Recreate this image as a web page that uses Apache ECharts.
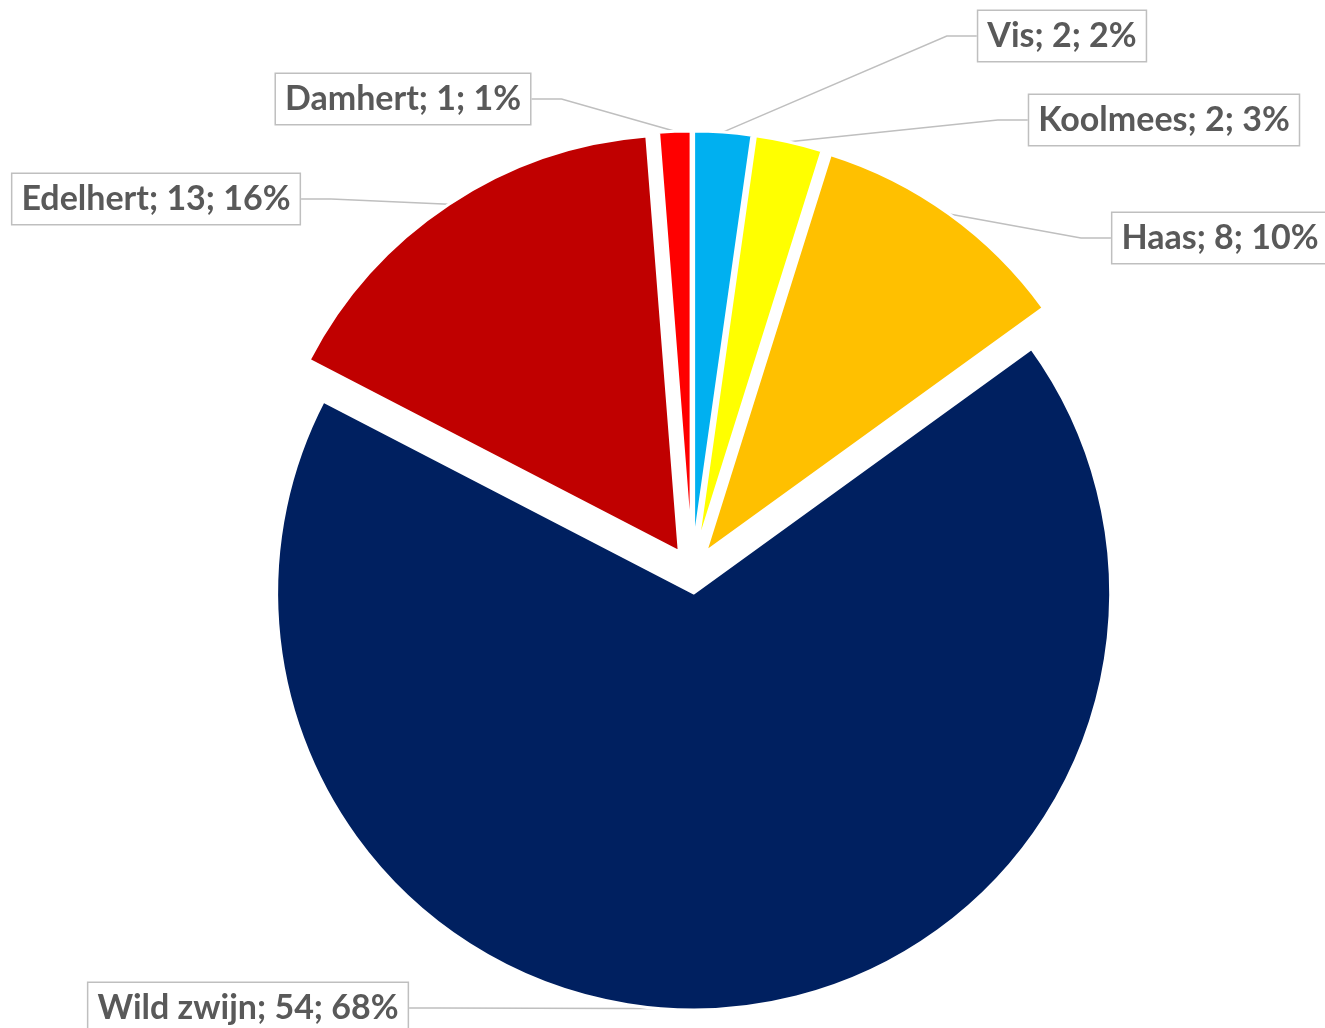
<!DOCTYPE html>
<html>
<head>
<meta charset="utf-8">
<script src="https://cdn.jsdelivr.net/npm/echarts@6/dist/echarts.min.js"></script>
<style>
  html, body { margin: 0; padding: 0; background: #fff; }
  #chart { width: 1325px; height: 1028px; }
</style>
</head>
<body>
<div id="chart"></div>
<script>
// slices clockwise from 12 o'clock
const categories = ['Vis', 'Koolmees', 'Haas', 'Wild zwijn', 'Edelhert', 'Damhert']
const values = [1.8, 2.1, 8.2, 54.4, 13, 1]
const colors = ['#00B0F0', '#FFFF00', '#FFC000', '#002060', '#C00000', '#FF0000']

// where the callout boxes sit (box centres, px)
const labelSpots = [
  [1062, 36],
  [1164, 120],
  [1220, 238],
  [248, 1008],
  [156, 199],
  [403, 99],
]
// how far each slice is pulled out of the pie (px)
const explode = [23, 23, 23, 22, 23, 23]

const CENTER = [692, 571]
const RADIUS = 417

const total = values.reduce((a, b) => a + b, 0)

const chart = echarts.init(document.getElementById('chart'))

const labelStyle = {
  show: true,
  formatter: (p) => `${p.name}; ${Math.round(p.value)}; ${Math.round((p.value / total) * 100)}%`,
  color: '#595959',
  fontFamily: 'Lato',
  fontWeight: 'bold',
  fontSize: 34,
  lineHeight: 38,
  backgroundColor: '#fff',
  borderColor: '#BFBFBF',
  borderWidth: 1.5,
  padding: [6, 9, 6, 9],
}

// exploded pie: each slice gets its own series, shifted along its middle angle,
// with the other slices left transparent
let acc = 0
const series = categories.map((name, i) => {
  const mid = ((acc + values[i] / 2) / total) * Math.PI * 2
  acc += values[i]
  return {
    type: 'pie',
    center: [CENTER[0] + explode[i] * Math.sin(mid), CENTER[1] - explode[i] * Math.cos(mid)],
    radius: [0, RADIUS],
    startAngle: 90,
    clockwise: true,
    avoidLabelOverlap: false,
    emphasis: { disabled: true },
    labelLayout: (params) => ({
      x: labelSpots[params.dataIndex][0],
      y: labelSpots[params.dataIndex][1],
      align: 'center',
      verticalAlign: 'middle',
    }),
    data: categories.map((n, j) => {
      const own = j === i
      return {
        name: n,
        value: values[j],
        itemStyle: own
          ? { color: colors[j], borderColor: '#fff', borderWidth: 3 }
          : { color: 'rgba(0,0,0,0)', borderWidth: 0 },
        label: own ? labelStyle : { show: false },
        labelLine: own
          ? { show: true, lineStyle: { color: '#BFBFBF', width: 1.5 } }
          : { show: false },
      }
    }),
  }
})

chart.setOption({
  animation: false,
  backgroundColor: '#fff',
  series,
})
</script>
</body>
</html>
